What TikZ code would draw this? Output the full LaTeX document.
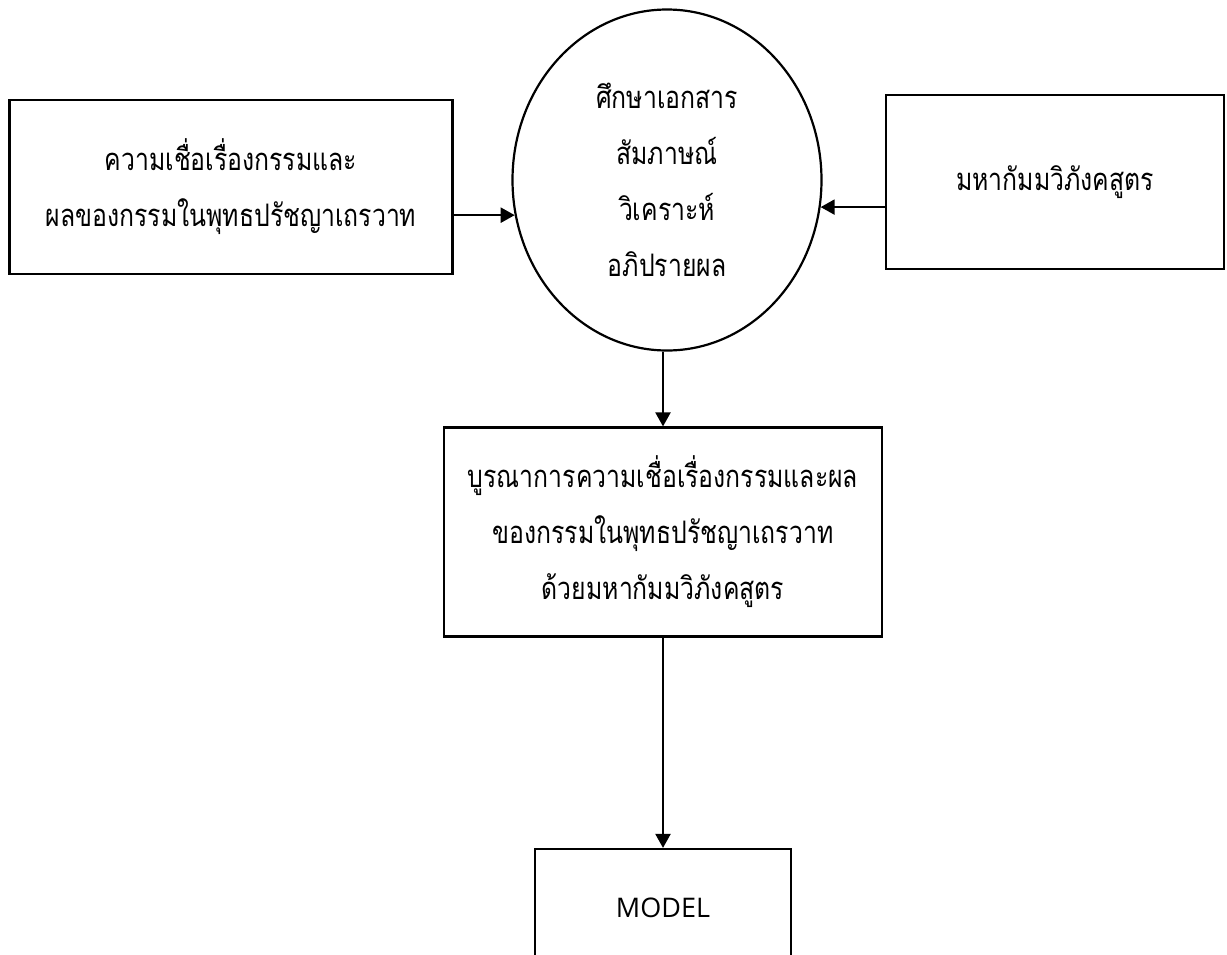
\documentclass[tikz,border=0pt]{standalone}
\usepackage{fontspec}
\newfontfamily\thaifont[Script=Thai,FakeStretch=0.8]{Loma}
\newfontfamily\latinfont{Open Sans}
\usetikzlibrary{shapes.geometric,arrows.meta}

\begin{document}
\begin{tikzpicture}[x=1pt, y=-1pt, line width=2.2pt,
   >={Triangle[length=14pt,width=15pt]},
   box_style/.style={draw=black, rectangle, align=center, font=\thaifont\fontsize{31}{56}\selectfont},
   edge_style/.style={draw=black, ->}]
	\useasboundingbox (0,0) rectangle (1227,954);

	\node [box_style, minimum width=443, minimum height=174] (belief) at (231,187)
		{ความเชื่อเรื่องกรรมและ\\ผลของกรรมในพุทธปรัชญาเถรวาท};
	\node [box_style, ellipse, minimum width=309, minimum height=341] (study) at (667,180)
		{ศึกษาเอกสาร\\สัมภาษณ์\\วิเคราะห์\\อภิปรายผล};
	\node [box_style, minimum width=338, minimum height=174] (sutta) at (1055,182)
		{มหากัมมวิภังคสูตร};
	\node [box_style, minimum width=438, minimum height=209] (merge) at (663,532)
		{บูรณาการความเชื่อเรื่องกรรมและผล\\ของกรรมในพุทธปรัชญาเถรวาท\\ด้วยมหากัมมวิภังคสูตร};
	\node [box_style, minimum width=256, minimum height=118, font=\latinfont\fontsize{27}{30}\selectfont] (model) at (663,908)
		{MODEL};

	\draw [edge_style] (study.193 -| belief.east) -- (study.193);
	\draw [edge_style] (study.350 -| sutta.west) -- (study.350);
	\draw [edge_style] (merge.north |- study.south) -- (merge.north);
	\draw [edge_style] (merge.south) -- (model.north);

\end{tikzpicture}
\end{document}
